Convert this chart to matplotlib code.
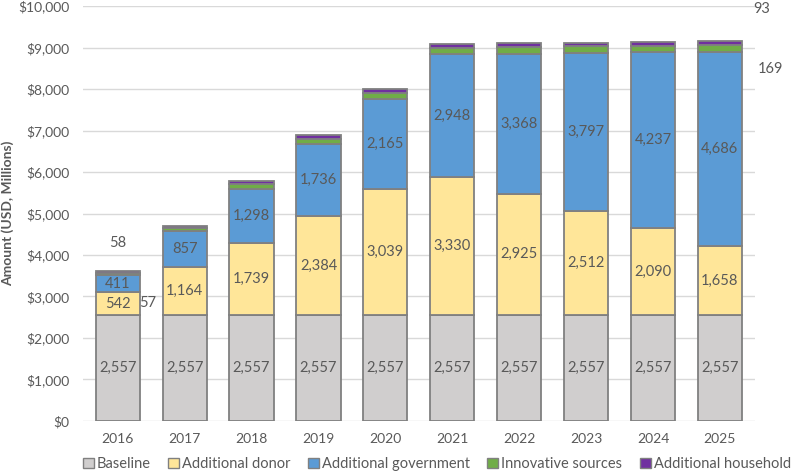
import matplotlib
matplotlib.use("Agg")
import matplotlib.pyplot as plt
import numpy as np
from matplotlib.ticker import FuncFormatter
from matplotlib.patches import Patch

years = ["2016", "2017", "2018", "2019", "2020", "2021", "2022", "2023", "2024", "2025"]
baseline = [2557, 2557, 2557, 2557, 2557, 2557, 2557, 2557, 2557, 2557]
donor = [542, 1164, 1739, 2384, 3039, 3330, 2925, 2512, 2090, 1658]
government = [411, 857, 1298, 1736, 2165, 2948, 3368, 3797, 4237, 4686]
innovative = [57, 72, 110, 130, 150, 160, 163, 165, 167, 169]
household = [58, 60, 70, 75, 80, 85, 88, 90, 92, 93]

names = ["Baseline", "Additional donor", "Additional government",
         "Innovative sources", "Additional household"]
colors = ["#D0CECE", "#FFE699", "#5B9BD5", "#70AD47", "#7030A0"]
series = [baseline, donor, government, innovative, household]
labelled = [True, True, True, False, False]

plt.rcParams['font.family'] = ['Lato', 'DejaVu Sans']
txt = "#595959"
fs = 10.5

fig = plt.figure(figsize=(7.94, 4.74), dpi=100)
ax = fig.add_axes([0.1045, 0.112, 0.846, 0.875])

x = np.arange(len(years))
bottom = np.zeros(len(years))
for vals, col, show in zip(series, colors, labelled):
    vals = np.array(vals)
    ax.bar(x, vals, 0.66, bottom=bottom, color=col, edgecolor="#808080",
           linewidth=1.3, zorder=3)
    if show:
        for xi, b, v in zip(x, bottom, vals):
            ax.text(xi, b + v / 2, f"{v:,}", ha="center", va="center",
                    fontsize=fs, color=txt, zorder=4)
    bottom += vals

# stray labels for the two smallest segments
ax.text(0, 4290, f"{household[0]}", ha="center", va="center", fontsize=fs, color=txt)
ax.text(0.45, 2850, f"{innovative[0]}", ha="center", va="center", fontsize=fs, color=txt)
ax.text(9.63, 9930, f"{household[-1]}", ha="center", va="center", fontsize=fs,
        color=txt, clip_on=False)
ax.text(9.75, 8480, f"{innovative[-1]}", ha="center", va="center", fontsize=fs,
        color=txt, clip_on=False)

ax.set_xlim(-0.52, 9.52)
ax.set_ylim(0, 10000)
ax.set_yticks(np.arange(0, 10001, 1000))
ax.yaxis.set_major_formatter(FuncFormatter(lambda v, p: f"${v:,.0f}"))
ax.set_xticks(x)
ax.set_xticklabels(years)
ax.tick_params(axis="both", length=0, labelsize=10, colors=txt)
ax.tick_params(axis="y", pad=10)
ax.tick_params(axis="x", pad=9)
ax.yaxis.grid(True, color="#D9D9D9", linewidth=1, zorder=0)
for s in ax.spines.values():
    s.set_visible(False)
ax.set_ylabel("Amount (USD, Millions)", fontsize=10, fontweight="bold", color=txt)
ax.yaxis.set_label_coords(-0.102, 0.5)

handles = [Patch(facecolor=c, edgecolor="#808080", label=n) for n, c in zip(names, colors)]
fig.legend(handles=handles, loc="center", bbox_to_anchor=(0.55, 0.021), ncol=5,
           frameon=False, fontsize=fs, labelcolor=txt, handlelength=0.75,
           handleheight=0.75, handletextpad=0.2, columnspacing=1.2)

fig.savefig("out.png", dpi=100)
